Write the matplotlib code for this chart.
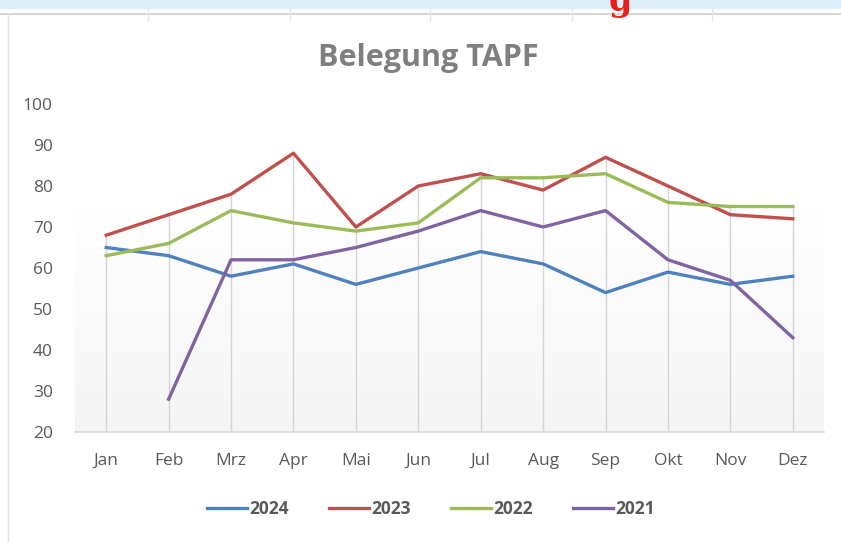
import numpy as np
import matplotlib
matplotlib.use('Agg')
import matplotlib.pyplot as plt
from matplotlib.lines import Line2D

months = ['Jan', 'Feb', 'Mrz', 'Apr', 'Mai', 'Jun', 'Jul', 'Aug', 'Sep', 'Okt', 'Nov', 'Dez']
y2024 = [65, 63, 58, 61, 56, 60, 64, 61, 54, 59, 56, 58]
y2023 = [68, 73, 78, 88, 70, 80, 83, 79, 87, 80, 73, 72]
y2022 = [63, 66, 74, 71, 69, 71, 82, 82, 83, 76, 75, 75]
y2021 = [np.nan, 28, 62, 62, 65, 69, 74, 70, 74, 62, 57, 43]

series = [('2024', y2024, '#4F81BD'),
          ('2023', y2023, '#C0504D'),
          ('2022', y2022, '#9BBB59'),
          ('2021', y2021, '#8064A2')]

plt.rcParams['font.family'] = ['Open Sans', 'DejaVu Sans']
grey = '#595959'

fig = plt.figure(figsize=(8.41, 5.42), dpi=100)
fig.patch.set_facecolor('white')

# screenshot frame bits
fig.patches.append(plt.Rectangle((0, 1 - 9 / 542), 1, 9 / 542, transform=fig.transFigure,
                                 facecolor='#DDEFFB', edgecolor='none'))
fig.lines.append(Line2D([0, 1], [1 - 14 / 542] * 2, transform=fig.transFigure, color='#D0D0D0', lw=1.2))
fig.lines.append(Line2D([8 / 841] * 2, [0, 1 - 14 / 542], transform=fig.transFigure, color='#E3E3E3', lw=1))
for xp in [148, 290, 430, 572, 712]:
    fig.lines.append(Line2D([xp / 841] * 2, [1 - 9 / 542, 1 - 20 / 542], transform=fig.transFigure,
                            color='#E6E6E6', lw=1))
fig.text(620 / 841, 1 - 1 / 542, 'g', color='#E8201C', fontsize=24, fontweight='bold',
         ha='center', va='center', family='DejaVu Serif')

ax = fig.add_axes([75 / 841, 110 / 542, 749 / 841, 328 / 542])
x = np.arange(len(months))

# gradient backdrop of plot area, white on top, light grey at the bottom
grad = np.linspace(0.0, 1.0, 256).reshape(-1, 1)
ax.imshow(grad, extent=[-0.5, 11.5, 20, 76], aspect='auto', cmap='Greys',
          vmin=0.0, vmax=11.0, zorder=0, origin='upper')

# drop lines from highest value to axis
tops = np.nanmax(np.array([y2024, y2023, y2022, y2021], dtype=float), axis=0)
ax.vlines(x, 20, tops, color='#D4D4D4', lw=1, zorder=1)

for name, vals, col in series:
    ax.plot(x, vals, color=col, lw=2.4, label=name, zorder=3)

ax.set_xlim(-0.5, 11.5)
ax.set_ylim(20, 100)
ax.set_yticks(range(20, 101, 10))
ax.set_xticks(x)
ax.set_xticklabels(months)
ax.tick_params(axis='both', length=0, labelsize=12.5, colors=grey)
ax.tick_params(axis='y', pad=16)
ax.tick_params(axis='x', pad=15)
for s in ['top', 'right', 'left']:
    ax.spines[s].set_visible(False)
ax.spines['bottom'].set_color('#D9D9D9')
ax.spines['bottom'].set_linewidth(1.2)
ax.set_facecolor('none')

fig.text(428 / 841, 1 - 58 / 542, 'Belegung TAPF', ha='center', va='center',
         fontsize=22, fontweight='bold', color='#7F7F7F')

leg = fig.legend(loc='center', bbox_to_anchor=(431 / 841, 1 - 509 / 542), ncol=4,
                 frameon=False, handlelength=2.3, handletextpad=0.15, columnspacing=2.3,
                 prop={'size': 12.5, 'weight': 'bold'})
for t in leg.get_texts():
    t.set_color(grey)

fig.savefig('out.png', dpi=100)
